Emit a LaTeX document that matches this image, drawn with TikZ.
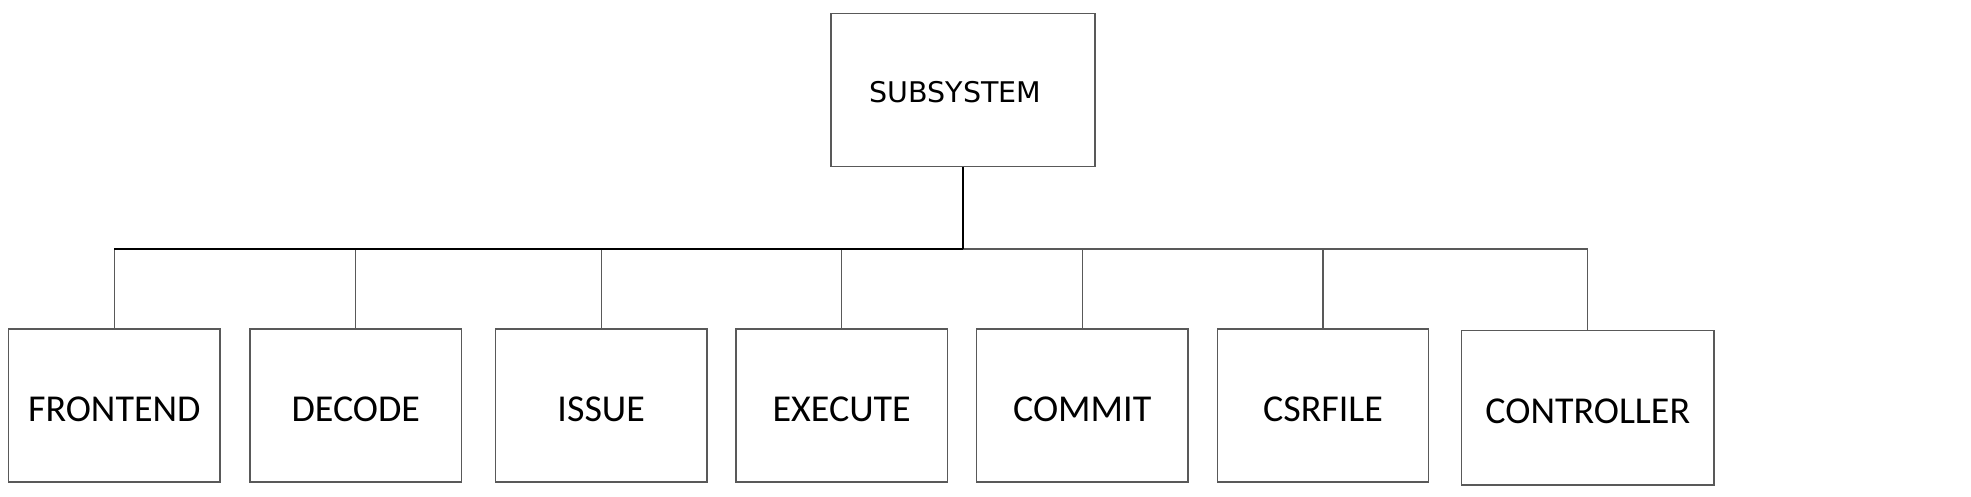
\documentclass[tikz,border=0pt]{standalone}
\usepackage{fontspec}
\newfontfamily\boxfont{Carlito}
\newfontfamily\topfont{DejaVu Sans}
\newcommand{\lowtxt}[1]{\raisebox{-15.9pt}[0pt][0pt]{#1}}
\begin{document}
\begin{tikzpicture}[x=1pt,y=-1pt,
  blk/.style={draw=black!65,line width=1.3pt,minimum width=211.5pt,minimum height=153pt,inner sep=0pt,font=\boxfont\fontsize{38}{40}\selectfont},
  topblk/.style={draw=black!65,line width=1.3pt,minimum width=264pt,minimum height=153pt,inner sep=0pt,font=\topfont\fontsize{28.5}{30}\selectfont},
  wire/.style={draw=black!65,line width=1.3pt},
  stem/.style={draw=black,line width=1.8pt}]
\useasboundingbox (0,0) rectangle (1971,496);
\node[topblk] (sub) at (963,90) {\hspace*{-15pt}\raisebox{-12.1pt}[0pt][0pt]{SUBSYSTEM}};
\node[blk] (fe)  at (114.3,405.5) {\lowtxt{FRONTEND}};
\node[blk] (dec) at (355.8,405.5) {\lowtxt{DECODE}};
\node[blk] (iss) at (601.2,405.5) {\lowtxt{ISSUE}};
\node[blk] (exe) at (841.7,405.5) {\lowtxt{EXECUTE}};
\node[blk] (com) at (1082.2,405.5) {\lowtxt{COMMIT}};
\node[blk] (csr) at (1323,405.5) {\lowtxt{CSRFILE}};
\node[blk,minimum width=252.3pt,minimum height=154.3pt] (ctl) at (1587.8,407.85) {\raisebox{-15.2pt}[0pt][0pt]{CONTROLLER}};
\coordinate (bus) at (963,249);
\draw[wire] (fe.north) -- (fe.north |- bus) -- (ctl.north |- bus) -- (ctl.north);
\foreach \n in {dec,iss,exe,com,csr}{
  \draw[wire] (\n.north) -- (\n.north |- bus);
}
\draw[stem] (sub.south) -- (bus);
\draw[line width=1.4pt] (fe.north |- bus) -- (bus);
\end{tikzpicture}
\end{document}
